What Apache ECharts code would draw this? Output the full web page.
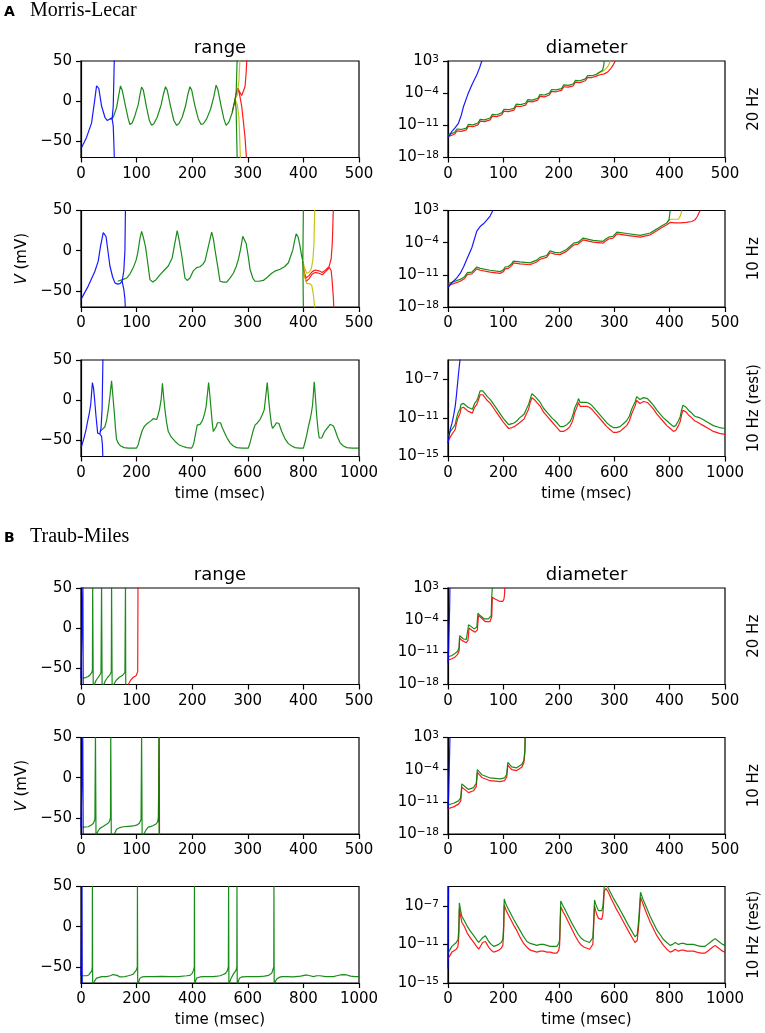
<!DOCTYPE html>
<html>
<head>
<meta charset="utf-8">
<script src="https://cdn.jsdelivr.net/npm/echarts@6/dist/echarts.min.js"></script>
<style>
html, body { margin: 0; padding: 0; background: #fff; }
#chart { width: 765px; height: 1033px; }
</style>
</head>
<body>
<div id="chart"></div>
<script>
// ---- Morris-Lecar, range (V in mV vs time in msec) ----
var mlRange20BlueUp = [[0,-59],[10,-45],[19,-27],[24,-2],[28,19],[32,16],[37,-6],[43,-20],[47,-24],[52,-22],[56,-22],[58,-6],[59.5,40],[60,55]];
var mlRange20BlueDown = [[56,-22],[58,-31],[59.5,-60],[60,-75]];
var mlRange20Green = [[52,-22],[58,-20],[64,-8],[68,8],[71,19],[74,14],[80,-6],[85,-22],[88,-29],[92,-27],[97,-18],[103,-4],[106,8],[109,17.5],[112,14],[118,-8],[123,-24],[127,-30],[131,-28],[137,-20],[144,-5],[148,8],[152,18],[155,14],[161,-6],[167,-24],[172,-30],[176,-28],[182,-20],[188,-6],[192,8],[196,18],[199,14],[205,-6],[211,-22],[216,-29],[220,-28],[226,-22],[233,-10],[239,6],[243,20],[246,15],[252,-6],[257,-22],[261,-30],[266,-26],[272,-14],[277,2],[279,10],[281,55]];
var mlRange20GreenDown = [[277,2],[279,-10],[281,-75]];
var mlRange20YellowUp = [[277,2],[281,8],[284,25],[286,55]];
var mlRange20YellowDown = [[277,2],[281,-4],[284,-20],[287,-75]];
var mlRange20RedUp = [[272,-14],[277,2],[280,12],[282,16],[285,12],[289,7],[292,7],[295,18],[297,35],[298.5,55]];
var mlRange20RedDown = [[282,16],[285,9],[289,-6],[292,-25],[295,-45],[298,-75]];

var mlRange10BlueUp = [[0,-60.5],[13,-44],[25,-25.5],[31,-13],[35,5],[40,22.6],[45,17.7],[52,-19],[57,-33],[61,-40],[66,-41.5],[70,-41],[74,-38],[77,-25],[79,0],[80,55]];
var mlRange10BlueDown = [[74,-38],[77,-48],[79,-60],[80,-75]];
var mlRange10Green = [[66,-38],[75,-36],[82,-34],[88,-29],[94,-21],[99,-12],[102,-3],[106,15],[109,24],[112,17],[116,5],[120,-15],[124,-36],[129,-39],[135,-36],[142,-30],[150,-24],[157,-19],[164,-9],[169,10],[173,25],[176,15],[181,-5],[187,-34],[191,-37],[196,-34],[202,-25],[208,-21],[214,-20],[219,-17],[223,-13],[229,5],[235,23],[238,15],[241,1],[246,-20],[250,-38],[256,-39],[262,-39],[268,-34],[274,-28],[279,-20],[283,-11],[287,2],[291,18],[294,16],[297,9],[301,-8],[304,-23],[309,-34],[313,-38],[320,-38],[328,-37],[335,-33],[343,-28],[350,-25],[358,-23],[366,-20],[373,-15],[378,-5],[381,1],[384,12],[387,21],[390,18],[393,9],[397,-7],[399,-13],[400,55]];
var mlRange10GreenDown = [[399,-13],[400,-75]];
var mlRange10YellowUp = [[399,-13],[402,-21],[406,-28],[410,-27],[414,-23],[417,-12],[419,8],[420.5,55]];
var mlRange10YellowDown = [[399,-15],[402,-32],[406,-41],[411,-41],[415,-43],[418,-55],[421,-75]];
var mlRange10RedUp = [[399,-13],[402,-28],[405,-34],[410,-31],[416,-26],[421,-24],[428,-25],[434,-27],[440,-24],[446,-20],[450,-10],[452,10],[454,55]];
var mlRange10RedDown = [[402,-30],[405,-38],[410,-35],[416,-29],[421,-27],[428,-28],[434,-30],[440,-26],[447,-21],[450,-25],[452,-40],[454,-60],[455,-75]];

var mlRangeRestBlueUp = [[0,-59.5],[10,-48],[18,-37],[24,-26],[30,-16],[35,-5],[41,22],[45,15],[48,4.5],[54,-20],[60,-41],[64,-42],[68,-42],[72,-35],[76,-10],[79,55]];
var mlRangeRestBlueDown = [[68,-42],[74,-45],[77,-55],[79,-75]];
var mlRangeRestGreen = [[68,-39],[78,-36],[86,-33],[92,-25],[98,-12],[104,5],[110,24],[114,8],[120,-16],[124,-35],[128,-49],[135,-54],[143,-57],[155,-59],[170,-59.5],[200,-59.5],[206,-55],[212,-47],[220,-38],[227,-33],[235,-30],[242,-29],[250,-26],[260,-23],[266,-24],[272,-24],[277,-19],[282,-12],[288,0],[293,21],[297,5],[302,-12],[308,-28],[314,-39],[325,-46],[338,-51],[350,-55],[362,-57],[380,-59],[398,-59.5],[402,-57],[406,-53],[412,-42],[418,-31],[423,-29],[428,-30],[434,-27],[440,-22],[445,-16],[450,-8],[454,5],[459,22],[463,8],[468,-12],[472,-28],[476,-39],[481,-37],[486,-33],[491,-28],[496,-26],[502,-28],[507,-33],[512,-37],[524,-46],[536,-53],[548,-57],[560,-59],[580,-59.5],[602,-59.5],[608,-53],[614,-45],[620,-37],[626,-31],[635,-28],[644,-24],[652,-18],[659,-12],[664,3],[670,22],[674,5],[680,-16],[685,-30],[689,-35],[694,-33],[698,-31],[703,-28],[707,-26],[712,-29],[717,-34],[722,-39],[734,-48],[746,-54],[758,-57],[770,-59],[785,-59.5],[800,-59.5],[806,-52],[812,-43],[818,-33],[824,-24],[829,-15],[833,-6],[836,8],[839,23],[843,5],[848,-20],[853,-38],[857,-47],[862,-49],[866,-47],[872,-42],[878,-38],[884,-36],[890,-33],[896,-30],[902,-29],[908,-32],[914,-37],[923,-46],[932,-53],[944,-57],[956,-59],[975,-59.5],[1000,-59.5]];

// ---- Morris-Lecar, diameter (log10 of the interval width) ----
var mlDiam20Blue = [[0,-13.7],[7,-12.3],[13,-11.5],[19,-10.5],[24,-8.8],[28,-6.9],[36,-4.2],[43,-2.2],[52,0],[57,1.5],[61,3]];
var mlDiam20Green = [[0,-13.0],[6,-12.8],[12,-12.5],[16,-11.8],[24,-11.9],[33,-11.6],[37,-10.8],[45,-10.9],[54,-10.5],[58,-9.7],[66,-9.8],[76,-9.4],[80,-8.6],[88,-8.7],[97,-8.3],[101,-7.5],[109,-7.6],[119,-7.3],[123,-6.4],[131,-6.5],[140,-6.2],[144,-5.4],[152,-5.5],[162,-5.1],[166,-4.3],[174,-4.4],[183,-4.0],[187,-3.2],[195,-3.3],[205,-3.0],[209,-2.2],[217,-2.3],[226,-2.0],[230,-1.2],[238,-1.3],[248,-0.9],[252,-0.2],[260,-0.2],[268,0.1],[274,0.6],[279,1.0],[281,2],[282,3]];
var mlDiam20Red = [[0,-13.4],[6,-13.2],[12,-12.9],[16,-12.2],[24,-12.3],[33,-12.0],[37,-11.2],[45,-11.3],[54,-10.9],[58,-10.1],[66,-10.2],[76,-9.8],[80,-9.0],[88,-9.1],[97,-8.7],[101,-7.9],[109,-8.0],[119,-7.7],[123,-6.8],[131,-6.9],[140,-6.6],[144,-5.8],[152,-5.9],[162,-5.5],[166,-4.7],[174,-4.8],[183,-4.4],[187,-3.6],[195,-3.7],[205,-3.4],[209,-2.6],[217,-2.7],[226,-2.4],[230,-1.6],[238,-1.7],[248,-1.3],[252,-0.6],[260,-0.6],[268,-0.3],[274,0.0],[282,0.2],[288,0.6],[294,1.4],[298,2.1],[302,3]];
var mlDiam20Yellow = [[268,0.1],[274,0.5],[280,0.8],[285,1.3],[290,2.1],[293,3]];

var mlDiam10Blue = [[0,-13.8],[7,-12.7],[15,-11.8],[22,-10.7],[28,-9.3],[34,-7.6],[43,-5.1],[52,-1.5],[58,-0.5],[64,0.1],[70,0.9],[76,1.8],[81,3]];
var mlDiam10Green = [[0,-12.9],[10,-12.5],[22,-12.0],[30,-11.4],[35,-10.5],[43,-10.4],[52,-9.3],[58,-9.6],[76,-10.0],[94,-10.3],[100,-9.9],[103,-9.3],[109,-9.2],[115,-8.6],[118,-8.0],[130,-8.2],[148,-8.4],[160,-7.8],[166,-7.2],[169,-6.9],[178,-6.8],[184,-5.8],[193,-6.1],[202,-6.2],[214,-5.5],[222,-4.6],[227,-4.1],[235,-3.9],[244,-3.0],[262,-3.5],[280,-3.7],[286,-3.1],[290,-2.8],[298,-2.6],[305,-1.7],[323,-2.0],[347,-2.4],[365,-1.9],[377,-1.0],[386,-0.3],[395,0.3],[399,1.0],[401,3]];
var mlDiam10Red = [[0,-13.3],[10,-12.9],[22,-12.4],[30,-11.8],[35,-10.9],[43,-10.8],[52,-9.7],[58,-10.0],[76,-10.4],[94,-10.7],[100,-10.3],[103,-9.7],[109,-9.6],[115,-9.0],[118,-8.4],[130,-8.6],[148,-8.8],[160,-8.2],[166,-7.6],[169,-7.3],[178,-7.2],[184,-6.2],[193,-6.5],[202,-6.6],[214,-5.9],[222,-5.0],[227,-4.5],[235,-4.3],[244,-3.4],[262,-3.9],[280,-4.1],[286,-3.5],[290,-3.2],[298,-3.0],[305,-2.1],[323,-2.4],[347,-2.8],[365,-2.3],[377,-1.4],[386,-0.7],[395,-0.1],[401,0.4],[410,0.3],[419,0.3],[430,0.4],[440,0.6],[446,1.0],[450,1.7],[455,3]];
var mlDiam10Yellow = [[395,0.3],[401,1.1],[410,1.1],[416,1.1],[420,2],[422,3]];

var mlDiamRestBlue = [[0,-13.6],[8,-12.2],[14,-11.6],[20,-10.8],[26,-9.8],[30,-8.8],[34,-7.6],[38,-6.4],[41,-5.6],[44,-4.8]];
var mlDiamRestGreen = [[0,-12.9],[6,-12.5],[14,-12.2],[20,-12.0],[26,-11.7],[31,-11.0],[36,-10.5],[40,-10.3],[44,-10.0],[47,-9.6],[50,-9.4],[56,-9.5],[62,-9.7],[72,-9.9],[80,-10.0],[88,-10.1],[92,-10.0],[96,-9.5],[100,-9.4],[104,-9.2],[108,-8.9],[112,-8.7],[116,-8.2],[119,-8.0],[125,-8.2],[131,-8.4],[142,-8.8],[153,-9.1],[165,-9.6],[177,-10.1],[189,-10.6],[201,-11.1],[210,-11.4],[219,-11.7],[225,-11.7],[231,-11.6],[240,-11.5],[249,-11.3],[258,-11.0],[267,-10.8],[275,-10.6],[281,-10.4],[286,-9.9],[291,-9.6],[297,-9.0],[303,-8.5],[309,-8.7],[315,-8.8],[321,-8.9],[333,-9.4],[345,-10.0],[360,-10.5],[375,-11.0],[390,-11.4],[405,-11.9],[417,-11.9],[429,-11.7],[440,-11.4],[447,-11.0],[452,-10.6],[457,-10.0],[462,-9.8],[468,-9.3],[471,-9.0],[477,-9.4],[483,-9.5],[492,-9.4],[501,-9.4],[510,-9.5],[519,-9.7],[531,-10.1],[543,-10.5],[558,-11.0],[573,-11.5],[585,-11.8],[597,-12.0],[609,-12.0],[621,-11.9],[633,-11.6],[645,-11.3],[655,-10.8],[663,-10.1],[670,-9.9],[676,-9.3],[681,-8.8],[687,-9.0],[693,-9.1],[700,-9.0],[706,-8.9],[712,-8.8],[720,-9.0],[730,-9.3],[742,-9.7],[754,-10.2],[766,-10.6],[778,-11.0],[790,-11.3],[802,-11.6],[814,-11.9],[822,-11.8],[832,-11.3],[838,-10.9],[844,-10.1],[848,-9.7],[852,-9.5],[860,-9.9],[868,-10.2],[880,-10.5],[890,-10.8],[898,-10.9],[910,-11.0],[922,-11.2],[940,-11.5],[958,-11.8],[980,-12.0],[1000,-12.1]];
var mlDiamRestRed = [[0,-13.5],[6,-13.1],[14,-12.7],[20,-12.5],[26,-12.2],[31,-11.5],[36,-11.0],[40,-10.8],[44,-10.5],[47,-10.0],[50,-9.8],[56,-9.9],[62,-10.1],[72,-10.3],[80,-10.4],[88,-10.5],[92,-10.4],[96,-9.9],[100,-9.8],[104,-9.6],[108,-9.3],[112,-9.1],[116,-8.6],[119,-8.4],[125,-8.6],[131,-8.8],[142,-9.2],[153,-9.5],[165,-10.0],[177,-10.5],[189,-11.0],[201,-11.5],[210,-11.8],[219,-12.1],[225,-12.1],[231,-12.0],[240,-11.9],[249,-11.7],[258,-11.5],[267,-11.3],[275,-11.1],[281,-10.9],[286,-10.4],[291,-10.1],[297,-9.4],[303,-8.9],[309,-9.1],[315,-9.2],[321,-9.3],[333,-9.8],[345,-10.4],[360,-10.9],[375,-11.4],[390,-11.9],[405,-12.4],[417,-12.4],[429,-12.2],[440,-11.9],[447,-11.5],[452,-11.1],[457,-10.5],[462,-10.3],[468,-9.7],[471,-9.4],[477,-9.8],[483,-9.9],[492,-9.8],[501,-9.8],[510,-9.9],[519,-10.1],[531,-10.5],[543,-10.9],[558,-11.4],[573,-11.9],[585,-12.2],[597,-12.5],[609,-12.5],[621,-12.4],[633,-12.1],[645,-11.8],[655,-11.3],[663,-10.6],[670,-10.4],[676,-9.7],[681,-9.2],[687,-9.4],[693,-9.5],[700,-9.4],[706,-9.3],[712,-9.2],[720,-9.4],[730,-9.7],[742,-10.1],[754,-10.6],[766,-11.0],[778,-11.4],[790,-11.8],[802,-12.1],[814,-12.4],[822,-12.3],[832,-11.8],[838,-11.4],[844,-10.6],[848,-10.2],[852,-10.0],[860,-10.4],[868,-10.7],[880,-11.0],[890,-11.3],[898,-11.4],[910,-11.6],[922,-11.8],[940,-12.1],[958,-12.4],[980,-12.6],[1000,-12.7]];

// ---- Traub-Miles, range ----
var tmRange20Blue = [[0,-62],[2,-62],[3,-61.5],[3.4,55],[4,-75]];
var tmRange20Green = [[3,-62],[8,-61.5],[13,-60],[17,-57.5],[19.5,-55],[20.5,-52],[21,55],[22,-75],[24,-70],[27,-65],[31,-61],[34,-58],[36,-55],[37,55],[38,-75],[41,-70],[44,-65],[48,-61],[52,-58],[54.5,-54],[55,55],[56,-75],[59,-70],[63,-65],[69,-61],[75,-58.5],[79,-55],[80,55],[80.5,-75]];
var tmRange20Red = [[80.5,-75],[85,-70],[89,-65],[94,-61],[99,-59],[101.5,-57],[102,-54],[102.5,55]];

var tmRange10Blue = [[0,-61.6],[2.5,-61.6],[3.2,55],[4,-75]];
var tmRange10Green = [[3,-61.5],[8,-61.3],[13,-61],[18,-59],[22,-57],[25,-52],[26,55],[27,-75],[28,-70],[31,-66],[34,-63],[39,-61],[43,-59],[48,-57],[51,-54.5],[53,-50],[53.5,55],[54.5,-75],[60,-70],[64,-64],[70,-62],[76,-61],[85,-60.5],[94,-60],[100,-59],[105,-56.6],[108,-52],[109,55],[110,-75],[113,-70],[117,-65],[121,-61.5],[126,-60.5],[130,-59.5],[135,-57.5],[138,-55],[139.5,-50],[140,55],[140.5,-75]];
var tmRange10Red = [[139,-55],[140.8,55],[141.2,-75]];

var tmRangeRestBlue = [[0,-61],[3,-61],[3.5,55],[4.5,-75]];
var tmRangeRestGreen = [[4,-61],[12,-61],[20,-61],[28,-60],[35,-58],[39,-55],[40.5,-50],[41,55],[42,-75],[45,-70],[50,-67],[56,-64],[62,-63],[75,-62],[92,-62],[105,-61],[115,-59.5],[122,-59],[130,-60.5],[140,-62.5],[146,-63],[158,-62],[170,-61],[180,-60],[188,-59],[195,-57],[199,-54],[202.5,-50],[203,55],[204,-75],[208,-68],[212,-64],[220,-62.5],[236,-62],[260,-62],[290,-61.8],[320,-62],[350,-62],[380,-61],[392,-60.5],[400,-58],[405,-54],[407.5,-50],[408,55],[409,-75],[412,-68],[416,-64],[428,-62.5],[440,-62],[460,-62],[476,-62],[490,-61.5],[500,-61],[512,-59.5],[520,-58],[526,-55],[530,-50],[531,55],[532,-75],[534,-70],[540,-64],[548,-59],[554,-57],[558,-54],[560.5,-50],[561,55],[562,-75],[566,-68],[570,-64],[578,-62.5],[584,-62],[600,-62],[620,-62],[640,-62],[660,-61.5],[675,-60.5],[686,-58],[690,-56],[693.5,-50],[694,55],[695,-75],[699,-68],[704,-65],[713,-63],[722,-62],[740,-62],[764,-62.3],[790,-61.5],[812,-60],[824,-61],[836,-62],[848,-61],[860,-61],[880,-62],[908,-62],[920,-61],[932,-60],[945,-59.5],[956,-60],[970,-61.5],[985,-62],[1000,-62]];

// ---- Traub-Miles, diameter (log10) ----
var tmDiam20Blue = [[0,-13.3],[1,-11],[2,-6],[3,-1],[3.5,3]];
var tmDiam20Green = [[0,-12.0],[7,-11.7],[13,-11.2],[17,-10.8],[20,-10.0],[21,-7.4],[23,-7.7],[28,-8.1],[33,-8.2],[35,-7.8],[36.5,-5.6],[37,-5.0],[41,-5.3],[47,-5.9],[52,-5.5],[54,-2.5],[58,-3.0],[65,-3.7],[73,-3.7],[78,-3.0],[79,1.1],[80,3]];
var tmDiam20Red = [[0,-12.7],[7,-12.4],[13,-12.0],[17,-11.5],[20,-10.7],[21,-7.9],[25,-8.4],[33,-8.9],[36,-8.4],[38,-5.7],[43,-6.2],[49,-6.6],[53,-6.1],[55,-3.0],[60,-3.5],[67,-4.3],[76,-4.3],[79,-3.2],[80,1.0],[85,0.6],[93,0.1],[99,0.1],[101,0.6],[102,1.5],[102.5,3]];

var tmDiam10Blue = [[0,-12.5],[1,-10],[2,-5],[3,0],[3.5,3]];
var tmDiam10Green = [[0,-11.7],[10,-11.3],[19,-10.8],[23,-10.1],[25,-7.1],[31,-7.7],[37,-8.3],[46,-7.9],[51,-7.0],[53,-4.0],[61,-5.1],[76,-5.8],[94,-6.0],[102,-5.8],[106,-5.0],[108,-2.4],[115,-3.4],[124,-3.6],[133,-2.9],[137,-2.0],[138.5,0],[139,3]];
var tmDiam10Red = [[0,-12.5],[10,-12.1],[19,-11.5],[23,-10.8],[25,-7.8],[31,-8.4],[37,-9.0],[46,-8.6],[51,-7.7],[53,-4.6],[61,-5.7],[76,-6.4],[94,-6.6],[102,-6.4],[106,-5.6],[108,-3.0],[115,-4.0],[124,-4.2],[133,-3.5],[137,-2.5],[139,0],[139.5,3]];

var tmDiamRestBlue = [[0,-13.5],[1,-10],[2,-5]];
var tmDiamRestGreen = [[0,-11.9],[14,-11.2],[30,-10.8],[36,-10.5],[39,-9.5],[41,-6.7],[45,-7.4],[50,-8.1],[60,-8.6],[69,-9.1],[80,-9.6],[93,-10.1],[103,-10.5],[111,-10.8],[118,-10.7],[125,-10.3],[135,-10.1],[141,-10.4],[147,-10.7],[156,-11.0],[165,-11.2],[175,-11.1],[183,-11.0],[192,-10.8],[198,-10.5],[201,-9.0],[203,-6.3],[210,-6.9],[219,-7.4],[228,-7.9],[237,-8.4],[249,-9.0],[261,-9.6],[273,-10.2],[285,-10.7],[297,-10.9],[309,-11.0],[321,-11.1],[333,-11.0],[345,-11.0],[357,-11.1],[369,-11.2],[381,-11.2],[393,-11.2],[400,-10.9],[403,-10.5],[405,-8.5],[407,-6.5],[415,-7.0],[423,-7.4],[435,-8.1],[447,-8.8],[459,-9.4],[471,-10.0],[482,-10.4],[492,-10.6],[502,-10.7],[511,-10.8],[518,-10.6],[523,-10.3],[526,-8.5],[529,-6.4],[533,-6.8],[537,-7.1],[543,-7.5],[549,-7.7],[555,-7.5],[559,-7.1],[562,-6.0],[564,-5.0],[570,-4.6],[579,-5.2],[588,-5.7],[597,-6.2],[609,-6.8],[621,-7.4],[636,-8.2],[651,-9.0],[663,-9.6],[675,-10.2],[680,-10.1],[683,-10.0],[688,-8.6],[691,-7.4],[695,-5.6],[700,-6.0],[705,-6.4],[717,-7.2],[730,-8.1],[742,-8.8],[754,-9.5],[766,-10.0],[778,-10.5],[790,-10.8],[802,-11.1],[811,-11.0],[820,-10.8],[826,-10.9],[832,-11.0],[841,-10.9],[850,-10.9],[862,-11.0],[874,-11.0],[886,-11.0],[898,-11.1],[913,-11.2],[928,-11.2],[937,-11.0],[946,-10.8],[955,-10.6],[964,-10.4],[973,-10.6],[982,-10.8],[991,-11.0],[1000,-11.1]];
var tmDiamRestRed = [[0,-12.5],[14,-11.8],[30,-11.5],[36,-11.2],[39,-10.2],[41,-7.3],[45,-8.0],[50,-8.7],[60,-9.2],[69,-9.8],[80,-10.3],[93,-10.8],[103,-11.2],[111,-11.5],[118,-11.3],[125,-10.8],[135,-10.7],[141,-11.0],[147,-11.3],[156,-11.6],[165,-11.8],[175,-11.7],[183,-11.6],[192,-11.4],[198,-11.1],[201,-9.6],[203,-6.9],[210,-7.5],[219,-8.0],[228,-8.5],[237,-9.0],[249,-9.6],[261,-10.3],[273,-10.9],[285,-11.3],[297,-11.6],[309,-11.7],[321,-11.8],[333,-11.7],[345,-11.7],[357,-11.8],[369,-11.8],[381,-11.9],[393,-11.9],[400,-11.6],[403,-11.1],[405,-9.1],[407,-7.1],[415,-7.6],[423,-8.0],[435,-8.7],[447,-9.4],[459,-10.1],[471,-10.7],[482,-11.1],[492,-11.3],[502,-11.4],[511,-11.5],[518,-11.3],[523,-11.0],[526,-9.1],[529,-7.0],[533,-7.5],[537,-7.9],[543,-8.3],[549,-8.5],[555,-8.4],[559,-7.9],[562,-6.6],[564,-5.5],[570,-5.2],[579,-5.6],[588,-6.2],[597,-6.7],[609,-7.4],[621,-8.0],[636,-8.8],[651,-9.6],[663,-10.2],[675,-10.8],[680,-10.7],[683,-10.6],[688,-9.2],[691,-8.0],[695,-6.1],[700,-6.5],[705,-6.9],[717,-7.8],[730,-8.7],[742,-9.4],[754,-10.1],[766,-10.6],[778,-11.1],[790,-11.5],[802,-11.8],[811,-11.7],[820,-11.5],[826,-11.6],[832,-11.7],[841,-11.6],[850,-11.6],[862,-11.7],[874,-11.7],[886,-11.7],[898,-11.8],[913,-11.9],[928,-11.9],[937,-11.7],[946,-11.5],[955,-11.3],[964,-11.1],[973,-11.3],[982,-11.5],[991,-11.7],[1000,-11.8]];

// tick values
var vTicks = [-50, 0, 50];
var diamTicks = [-18, -11, -4, 3];
var diamRestTicks = [-15, -11, -7];
var rowLabels = ['20 Hz', '10 Hz', '10 Hz (rest)', '20 Hz', '10 Hz', '10 Hz (rest)'];

var colors = { b: '#0000ff', g: '#008000', y: '#bfbf00', r: '#ff0000' };

// panels: row 0-5 (0-2 = A, 3-5 = B), col 0 = range, col 1 = diameter
var panels = [
    { row: 0, col: 0, xMax: 500, y: 'v', lines: [['r', mlRange20RedUp], ['r', mlRange20RedDown], ['y', mlRange20YellowUp], ['y', mlRange20YellowDown], ['g', mlRange20Green], ['g', mlRange20GreenDown], ['b', mlRange20BlueUp], ['b', mlRange20BlueDown]] },
    { row: 0, col: 1, xMax: 500, y: 'd', lines: [['r', mlDiam20Red], ['y', mlDiam20Yellow], ['g', mlDiam20Green], ['b', mlDiam20Blue]] },
    { row: 1, col: 0, xMax: 500, y: 'v', lines: [['r', mlRange10RedUp], ['r', mlRange10RedDown], ['y', mlRange10YellowUp], ['y', mlRange10YellowDown], ['g', mlRange10Green], ['g', mlRange10GreenDown], ['b', mlRange10BlueUp], ['b', mlRange10BlueDown]] },
    { row: 1, col: 1, xMax: 500, y: 'd', lines: [['r', mlDiam10Red], ['y', mlDiam10Yellow], ['g', mlDiam10Green], ['b', mlDiam10Blue]] },
    { row: 2, col: 0, xMax: 1000, y: 'v', lines: [['g', mlRangeRestGreen], ['b', mlRangeRestBlueUp], ['b', mlRangeRestBlueDown]] },
    { row: 2, col: 1, xMax: 1000, y: 'dr', lines: [['r', mlDiamRestRed], ['g', mlDiamRestGreen], ['b', mlDiamRestBlue]] },
    { row: 3, col: 0, xMax: 500, y: 'v', lines: [['r', tmRange20Red], ['g', tmRange20Green], ['b', tmRange20Blue]] },
    { row: 3, col: 1, xMax: 500, y: 'd', lines: [['r', tmDiam20Red], ['g', tmDiam20Green], ['b', tmDiam20Blue]] },
    { row: 4, col: 0, xMax: 500, y: 'v', lines: [['r', tmRange10Red], ['g', tmRange10Green], ['b', tmRange10Blue]] },
    { row: 4, col: 1, xMax: 500, y: 'd', lines: [['r', tmDiam10Red], ['g', tmDiam10Green], ['b', tmDiam10Blue]] },
    { row: 5, col: 0, xMax: 1000, y: 'v', lines: [['g', tmRangeRestGreen], ['b', tmRangeRestBlue]] },
    { row: 5, col: 1, xMax: 1000, y: 'dr', lines: [['r', tmDiamRestRed], ['g', tmDiamRestGreen], ['b', tmDiamRestBlue]] }
];

var rowTops = [61, 210.5, 360, 588, 737.5, 886.5];
var plotH = 96.5;
var colLeft = [81, 448];
var colW = [278, 277];
var FONT = 'DejaVu Sans';

// 10^n label as rich text (base + raised exponent)
function powLabel(v) {
    var e = v < 0 ? '\u2212' + Math.abs(v) : String(v);
    return '{b|10}{s|' + e + '}';
}
var powRich = {
    b: { fontFamily: FONT, fontSize: 15, lineHeight: 15, color: '#000', verticalAlign: 'bottom' },
    s: { fontFamily: FONT, fontSize: 10.5, lineHeight: 11, color: '#000', verticalAlign: 'top', padding: [0, 0, 7, 0] }
};

var grids = [], xAxes = [], yAxes = [], series = [];

panels.forEach((p, i) => {
    grids.push({
        left: colLeft[p.col], top: rowTops[p.row], width: colW[p.col], height: plotH,
        show: true, borderColor: '#000', borderWidth: 1.2, backgroundColor: 'transparent'
    });

    var bottomRow = (p.row === 2 || p.row === 5);
    xAxes.push({
        gridIndex: i, type: 'value', min: 0, max: p.xMax, interval: p.xMax / 5,
        name: bottomRow ? 'time (msec)' : '', nameLocation: 'middle', nameGap: 30,
        nameTextStyle: { fontFamily: FONT, fontSize: 15, color: '#000' },
        axisLine: { show: true, onZero: false, lineStyle: { color: '#000', width: 1.2 } },
        axisTick: { show: true, length: 5, lineStyle: { color: '#000', width: 1.2 } },
        axisLabel: { fontFamily: FONT, fontSize: 15, color: '#000', margin: 9, formatter: v => String(v) },
        splitLine: { show: false }
    });

    var yCfg;
    if (p.y === 'v') {
        yCfg = { min: -70, max: 50, ticks: vTicks, fmt: v => (v < 0 ? '\u2212' + Math.abs(v) : String(v)) };
    } else if (p.y === 'd') {
        yCfg = { min: -18, max: 3, ticks: diamTicks, fmt: powLabel };
    } else {
        yCfg = { min: -15, max: -5, ticks: diamRestTicks, fmt: powLabel };
    }
    yAxes.push({
        gridIndex: i, type: 'value', min: yCfg.min, max: yCfg.max,
        axisLine: { show: true, onZero: false, lineStyle: { color: '#000', width: 1.2 } },
        axisTick: { show: true, length: 5, customValues: yCfg.ticks, lineStyle: { color: '#000', width: 1.2 } },
        axisLabel: { fontFamily: FONT, fontSize: 15, color: '#000', margin: 9, customValues: yCfg.ticks, formatter: yCfg.fmt, rich: powRich },
        splitLine: { show: false }
    });

    p.lines.forEach(l => {
        series.push({
            type: 'line', xAxisIndex: i, yAxisIndex: i, data: l[1],
            showSymbol: false, symbol: 'none', clip: true, silent: true,
            lineStyle: { color: colors[l[0]], width: 1.2, opacity: 0.9 }
        });
    });
});

// texts: section heads, column titles, row labels, y label
var graphics = [];
function txt(x, y, text, font, extra) {
    var g = { type: 'text', x: x, y: y, style: Object.assign({ text: text, font: font, fill: '#000', textAlign: 'center', textVerticalAlign: 'middle' }, extra || {}) };
    return g;
}
graphics.push(txt(4, 12.5, 'A', 'bold 14px DejaVu Sans', { textAlign: 'left' }));
graphics.push(txt(30, 11, 'Morris-Lecar', '20px Liberation Serif', { textAlign: 'left' }));
graphics.push(txt(4, 538.5, 'B', 'bold 14px DejaVu Sans', { textAlign: 'left' }));
graphics.push(txt(30, 537, 'Traub-Miles', '20px Liberation Serif', { textAlign: 'left' }));

[[0, 48], [3, 575]].forEach(r => {
    graphics.push(txt(colLeft[0] + colW[0] / 2, r[1], 'range', '18px DejaVu Sans'));
    graphics.push(txt(colLeft[1] + colW[1] / 2, r[1], 'diameter', '18px DejaVu Sans'));
});

rowLabels.forEach((lab, r) => {
    var g = txt(0, 0, lab, '15px DejaVu Sans');
    g.x = 754; g.y = rowTops[r] + plotH / 2; g.rotation = Math.PI / 2;
    graphics.push(g);
});

[1, 4].forEach(r => {
    var g = txt(0, 0, '{i|V} (mV)', '15px DejaVu Sans', {
        rich: { i: { fontStyle: 'italic', fontFamily: FONT, fontSize: 15, fill: '#000' } }
    });
    g.x = 22; g.y = rowTops[r] + plotH / 2; g.rotation = Math.PI / 2;
    graphics.push(g);
});

var myChart = echarts.init(document.getElementById('chart'));
myChart.setOption({
    animation: false,
    backgroundColor: '#fff',
    textStyle: { fontFamily: FONT },
    grid: grids,
    xAxis: xAxes,
    yAxis: yAxes,
    series: series,
    graphic: graphics
});
</script>
</body>
</html>
